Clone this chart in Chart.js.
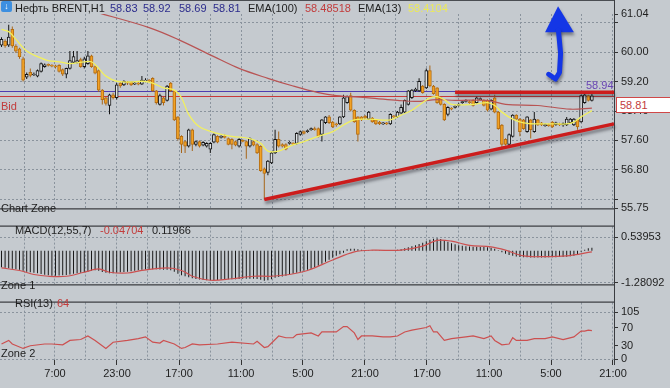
<!DOCTYPE html>
<html>
<head>
<meta charset="utf-8">
<script src="https://cdn.jsdelivr.net/npm/chart.js@4.4.1/dist/chart.umd.min.js"></script>
<style>
  html, body { margin: 0; padding: 0; background: #c5cacf; }
  #wrap { position: relative; width: 670px; height: 388px; overflow: hidden;
    font-family: "Liberation Sans", Arial, sans-serif; font-size: 11px; color: #1e1e1e; }
  canvas { position: absolute; left: 0; }
  .t { position: absolute; white-space: nowrap; line-height: 12px; }
  .blue { color: #2b2b8c; }
  .red { color: #c23c3c; }
  .yel { color: #ecea58; }
</style>
</head>
<body>
<div id="wrap">
  <canvas id="cMain" width="670" height="218" style="top:0;width:670px;height:218px"></canvas>
  <canvas id="cMacd" width="670" height="77" style="top:217px;width:670px;height:77px"></canvas>
  <canvas id="cRsi" width="670" height="95" style="top:293px;width:670px;height:95px"></canvas>

  <div style="position:absolute;left:0;top:0;width:614px;height:1px;background:#4a4d52"></div>
  <div style="position:absolute;left:614px;top:0;width:1px;height:365px;background:#3a3c40"></div>

  <div style="position:absolute;left:1px;top:1px;width:11px;height:11px;background:#3d8fe0;border-radius:2px;color:#fff;font-size:9px;line-height:11px;text-align:center;font-weight:bold">↓</div>
  <div class="t" style="left:15px;top:2px">Нефть BRENT,H1</div>
  <div class="t blue" style="left:110px;top:2px">58.83</div>
  <div class="t blue" style="left:143px;top:2px">58.92</div>
  <div class="t blue" style="left:179px;top:2px">58.69</div>
  <div class="t blue" style="left:213px;top:2px">58.81</div>
  <div class="t" style="left:248px;top:2px">EMA(100)</div>
  <div class="t red" style="left:305px;top:2px">58.48518</div>
  <div class="t" style="left:358px;top:2px">EMA(13)</div>
  <div class="t yel" style="left:408px;top:2px">58.4104</div>

  <div class="t red" style="left:1px;top:100px">Bid</div>
  <div class="t" style="left:586px;top:79px;color:#6a46b4">58.94</div>
  <div class="t red" style="left:616px;top:97px;width:52px;height:14px;line-height:14px;background:#fff;border:1px solid #d04848;padding-left:3px;box-sizing:content-box">58.81</div>
  <div class="t" style="left:1px;top:202px">Chart Zone</div>

  <div class="t" style="left:15px;top:224px">MACD(12,55,7)</div>
  <div class="t red" style="left:100px;top:224px">-0.04704</div>
  <div class="t" style="left:152px;top:224px">0.11966</div>
  <div class="t" style="left:1px;top:279px">Zone 1</div>

  <div class="t" style="left:15px;top:297px">RSI(13)</div>
  <div class="t red" style="left:57px;top:297px">64</div>
  <div class="t" style="left:1px;top:347px">Zone 2</div>
</div>

<script>
// hourly bars, index 0 = leftmost candle
const opens = [
  60.19, 60.30, 60.19, 60.62, 60.17, 60.09, 59.82, 59.32, 59.45, 59.38,
  59.35, 59.48, 59.61, 59.66, 59.64, 59.62, 59.64, 59.53, 59.40, 59.56,
  59.72, 59.72, 59.80, 59.61, 59.69, 59.90, 59.61, 59.50, 58.97, 58.76,
  58.55, 58.84, 58.76, 59.16, 59.11, 59.19, 59.19, 59.13, 59.16, 59.13,
  59.21, 59.24, 59.29, 58.95, 58.58, 58.76, 58.69, 59.16, 58.95, 58.24,
  57.71, 57.57, 57.44, 57.89, 57.49, 57.57, 57.47, 57.44, 57.36, 57.55,
  57.71, 57.68, 57.71, 57.65, 57.63, 57.57, 57.44, 57.60, 57.57, 57.44,
  57.57, 57.49, 57.44, 56.83, 56.73, 56.99, 57.26, 57.63, 57.49, 57.49,
  57.52, 57.52, 57.52, 57.76, 57.84, 57.84, 57.89, 57.92, 57.92, 57.76,
  58.08, 58.24, 58.10, 58.05, 58.05, 58.24, 58.63, 58.82, 58.42, 58.24,
  58.24, 58.26, 58.18, 58.21, 58.16, 58.10, 58.05, 58.08, 58.05, 58.26,
  58.24, 58.34, 58.37, 58.58, 58.76, 58.95, 58.95, 59.08, 59.03, 59.50,
  59.08, 59.03, 58.76, 58.58, 58.31, 58.47, 58.50, 58.55, 58.63, 58.66,
  58.66, 58.69, 58.63, 58.71, 58.69, 58.69, 58.45, 58.76, 58.37, 58.02,
  57.63, 57.49, 57.71, 58.29, 58.18, 58.16, 57.84, 58.16, 57.84, 58.16,
  58.08, 58.00, 58.03, 58.10, 58.03, 58.05, 58.02, 58.02, 58.08, 58.02,
  58.16, 58.10, 58.63, 58.82, 58.69
];
const highs = [
  60.41, 60.35, 60.75, 60.70, 60.22, 60.12, 59.88, 59.45, 59.56, 59.45,
  59.53, 59.72, 59.69, 59.69, 59.67, 59.66, 59.67, 59.56, 59.58, 60.03,
  60.03, 60.03, 59.85, 59.88, 60.03, 59.93, 59.64, 59.53, 59.00, 58.79,
  58.87, 58.90, 59.16, 59.19, 59.24, 59.22, 59.22, 59.19, 59.19, 59.35,
  59.29, 59.27, 59.32, 58.97, 58.87, 58.79, 59.11, 59.19, 58.97, 58.26,
  57.74, 57.60, 57.92, 57.92, 57.60, 57.60, 57.58, 57.55, 57.55, 57.79,
  57.74, 57.74, 57.76, 57.68, 57.66, 57.60, 57.66, 57.63, 57.60, 57.68,
  57.60, 57.52, 57.47, 56.86, 57.07, 57.29, 57.89, 57.84, 57.52, 57.52,
  57.58, 57.55, 57.82, 57.87, 57.87, 57.90, 57.95, 57.97, 57.95, 58.18,
  58.26, 58.29, 58.13, 58.08, 58.26, 58.84, 58.82, 58.90, 58.45, 58.26,
  58.26, 58.29, 58.40, 58.24, 58.18, 58.13, 58.10, 58.10, 58.34, 58.29,
  58.40, 58.58, 58.71, 58.97, 59.00, 59.03, 59.29, 59.11, 59.56, 59.64,
  59.11, 59.05, 58.79, 58.61, 58.53, 58.50, 58.56, 58.61, 58.69, 58.72,
  58.69, 58.72, 58.79, 58.77, 58.72, 58.72, 58.72, 58.84, 58.40, 58.05,
  57.66, 57.79, 58.31, 58.31, 58.21, 58.18, 58.26, 58.18, 58.37, 58.18,
  58.10, 58.06, 58.06, 58.13, 58.11, 58.08, 58.09, 58.24, 58.21, 58.21,
  58.18, 58.84, 58.87, 58.84, 58.90
];
const lows = [
  60.14, 60.12, 60.14, 60.12, 59.98, 59.82, 59.20, 59.27, 59.32, 59.35,
  59.32, 59.45, 59.58, 59.61, 59.59, 59.56, 59.45, 59.35, 59.29, 59.53,
  59.69, 59.69, 59.58, 59.56, 59.66, 59.58, 59.40, 58.92, 58.58, 58.55,
  58.31, 58.71, 58.71, 59.03, 59.08, 59.11, 59.08, 59.11, 59.10, 59.11,
  59.18, 59.18, 58.92, 58.58, 58.55, 58.55, 58.66, 58.92, 58.13, 57.60,
  57.26, 57.26, 57.41, 57.31, 57.44, 57.41, 57.44, 57.41, 57.26, 57.52,
  57.52, 57.65, 57.65, 57.47, 57.36, 57.44, 57.41, 57.55, 57.10, 57.41,
  57.44, 57.23, 56.75, 55.99, 56.65, 56.96, 57.23, 57.41, 57.41, 57.33,
  57.49, 57.47, 57.49, 57.73, 57.76, 57.81, 57.86, 57.86, 57.68, 57.57,
  58.05, 58.05, 57.94, 57.97, 58.02, 58.21, 58.60, 58.39, 58.08, 57.57,
  58.13, 58.18, 58.16, 58.08, 58.02, 58.02, 58.02, 58.02, 58.02, 58.21,
  58.21, 58.31, 58.34, 58.55, 58.73, 58.92, 58.92, 58.87, 59.00, 59.05,
  58.84, 58.60, 58.55, 58.13, 58.26, 58.42, 58.47, 58.52, 58.60, 58.63,
  58.60, 58.52, 58.60, 58.69, 58.52, 58.39, 58.42, 58.34, 57.89, 57.36,
  57.46, 57.46, 57.68, 58.16, 57.71, 57.89, 57.81, 57.65, 57.81, 57.99,
  57.99, 57.97, 57.97, 57.94, 58.00, 57.99, 57.97, 57.99, 58.05, 57.99,
  57.89, 58.08, 58.60, 58.66, 58.66
];
const closes = [
  60.35, 60.17, 60.41, 60.17, 60.03, 59.88, 59.24, 59.40, 59.37, 59.40,
  59.50, 59.69, 59.66, 59.64, 59.62, 59.60, 59.48, 59.40, 59.56, 59.77,
  59.88, 59.77, 59.61, 59.82, 59.90, 59.61, 59.43, 58.97, 58.71, 58.61,
  58.84, 58.76, 59.11, 59.08, 59.21, 59.16, 59.11, 59.16, 59.13, 59.24,
  59.24, 59.21, 58.95, 58.63, 58.82, 58.63, 59.08, 58.95, 58.16, 57.65,
  57.49, 57.44, 57.89, 57.49, 57.57, 57.44, 57.55, 57.52, 57.52, 57.76,
  57.55, 57.71, 57.68, 57.49, 57.49, 57.47, 57.63, 57.57, 57.44, 57.65,
  57.47, 57.26, 56.78, 56.70, 57.04, 57.26, 57.63, 57.44, 57.44, 57.36,
  57.55, 57.50, 57.79, 57.84, 57.79, 57.87, 57.92, 57.89, 57.71, 58.16,
  58.24, 58.08, 57.97, 58.02, 58.24, 58.76, 58.79, 58.42, 58.10, 57.76,
  58.16, 58.21, 58.37, 58.10, 58.05, 58.05, 58.08, 58.05, 58.31, 58.24,
  58.37, 58.50, 58.69, 58.95, 58.97, 59.00, 59.21, 58.90, 59.50, 59.08,
  58.87, 58.63, 58.58, 58.16, 58.50, 58.45, 58.53, 58.58, 58.66, 58.69,
  58.63, 58.55, 58.76, 58.74, 58.55, 58.42, 58.69, 58.37, 57.92, 57.49,
  57.49, 57.76, 58.29, 58.18, 57.84, 57.92, 58.24, 57.89, 58.18, 58.02,
  58.02, 58.03, 58.00, 57.97, 58.08, 58.02, 58.06, 58.18, 58.18, 58.18,
  57.97, 58.82, 58.84, 58.69, 58.81
];

// EMA lines read at selected bars
const ema13Bars = [0, 2, 4, 7, 10, 13, 16, 19, 23, 25, 27, 29, 32, 36, 39, 42, 45, 48, 50, 52, 55, 60, 64, 69, 72, 74, 77, 80, 84, 88, 92, 95, 98, 102, 105, 108, 111, 114, 117, 119, 121, 123, 125, 131, 135, 137, 139, 142, 145, 149, 154, 157, 159, 161, 164];
const ema13Vals = [60.62, 60.56, 60.35, 60.03, 59.88, 59.77, 59.74, 59.69, 59.74, 59.74, 59.56, 59.35, 59.21, 59.19, 59.21, 59.16, 59.03, 58.97, 58.76, 58.31, 57.97, 57.79, 57.71, 57.65, 57.52, 57.31, 57.31, 57.44, 57.57, 57.71, 57.84, 58.02, 58.16, 58.18, 58.16, 58.16, 58.29, 58.42, 58.63, 58.76, 58.79, 58.71, 58.58, 58.58, 58.63, 58.55, 58.37, 58.18, 58.08, 58.05, 58.05, 58.05, 58.10, 58.24, 58.41];
const ema100Bars = [27, 41, 49, 59, 66, 74, 81, 88, 93, 102, 110, 115, 121, 126, 135, 140, 149, 158, 164];
const ema100Vals = [61.07, 60.67, 60.35, 59.88, 59.56, 59.29, 59.08, 58.90, 58.82, 58.76, 58.69, 58.66, 58.71, 58.69, 58.69, 58.58, 58.55, 58.45, 58.48];

// MACD histogram, one value per bar
const macdHist = [
  -0.66, -0.68, -0.70, -0.72, -0.74, -0.76, -0.80, -0.84, -0.86, -0.88,
  -0.90, -0.93, -0.96, -0.98, -1.00, -1.00, -0.99, -0.98, -0.97, -0.95,
  -0.92, -0.90, -0.88, -0.86, -0.84, -0.80, -0.78, -0.80, -0.85, -0.88,
  -0.90, -0.90, -0.88, -0.86, -0.85, -0.84, -0.82, -0.80, -0.78, -0.76,
  -0.75, -0.74, -0.74, -0.74, -0.75, -0.76, -0.76, -0.78, -0.84, -0.92,
  -0.98, -1.02, -1.06, -1.10, -1.13, -1.15, -1.17, -1.18, -1.18, -1.18,
  -1.17, -1.16, -1.15, -1.14, -1.14, -1.14, -1.13, -1.12, -1.12, -1.12,
  -1.12, -1.13, -1.16, -1.20, -1.18, -1.14, -1.08, -1.05, -1.03, -1.00,
  -0.96, -0.92, -0.88, -0.84, -0.80, -0.76, -0.72, -0.66, -0.60, -0.52,
  -0.44, -0.36, -0.28, -0.20, -0.14, -0.08, 0.06, 0.08, 0.08, 0.06,
  0.04, 0.02, 0.02, 0.01, 0.01, 0.01, 0.01, 0.01, 0.02, 0.02,
  0.04, 0.06, 0.10, 0.14, 0.18, 0.22, 0.27, 0.32, 0.38, 0.44,
  0.48, 0.50, 0.47, 0.42, 0.36, 0.30, 0.26, 0.22, 0.20, 0.18,
  0.17, 0.16, 0.16, 0.15, 0.15, 0.14, 0.12, 0.08, 0.02, -0.06,
  -0.12, -0.17, -0.20, -0.23, -0.25, -0.26, -0.26, -0.27, -0.27, -0.27,
  -0.27, -0.27, -0.26, -0.26, -0.26, -0.25, -0.25, -0.24, -0.22, -0.20,
  -0.14, -0.04, 0.04, 0.10, 0.12
];
const macdSigBars = [0, 5, 9, 13, 18, 23, 27, 30, 35, 39, 46, 50, 53, 58, 64, 70, 75, 80, 85, 92, 98, 103, 111, 117, 121, 125, 130, 136, 140, 145, 150, 157, 164];
const macdSigVals = [-0.69, -0.79, -0.95, -1.02, -1.02, -0.86, -0.73, -0.86, -0.89, -0.79, -0.69, -0.79, -1.02, -1.18, -1.12, -1.02, -1.02, -0.95, -0.79, -0.37, -0.05, 0.02, 0.02, 0.18, 0.41, 0.38, 0.21, 0.15, 0.02, -0.21, -0.24, -0.21, -0.05];

const rsiBars = [0, 2, 3, 6, 8, 12, 14, 17, 19, 22, 24, 26, 29, 31, 35, 38, 40, 42, 44, 45, 48, 50, 51, 53, 55, 60, 64, 70, 71, 73, 74, 77, 79, 81, 82, 86, 88, 89, 93, 95, 96, 98, 99, 100, 103, 106, 108, 110, 112, 114, 118, 119, 120, 121, 123, 125, 129, 131, 134, 136, 137, 139, 141, 142, 143, 146, 148, 151, 153, 156, 159, 161, 162, 163, 164];
const rsiVals = [34, 42, 34, 24, 30, 34, 34, 32, 42, 44, 52, 42, 24, 38, 42, 46, 50, 38, 36, 42, 34, 24, 26, 34, 32, 34, 38, 34, 40, 26, 28, 52, 48, 48, 55, 59, 52, 61, 61, 73, 73, 59, 44, 52, 52, 50, 50, 52, 61, 65, 71, 75, 61, 61, 42, 46, 50, 52, 46, 52, 42, 32, 34, 48, 42, 42, 46, 46, 50, 44, 50, 63, 63, 65, 64];

// axis ticks
const timeTickPos = [6.25, 14.86, 23.47, 32.08, 40.69, 49.31, 57.92, 66.53, 75.14, 83.75, 92.36, 100.97, 109.58, 118.19, 126.81, 135.42, 144.03, 152.64, 161.25, 169.86];
const timeLabels = ['7:00', '23:00', '17:00', '11:00', '5:00', '21:00', '17:00', '11:00', '5:00', '21:00'];
const priceTicks = [55.75, 56.00, 56.80, 57.60, 58.40, 59.20, 60.00, 60.80, 61.04];
const priceLabels = ['55.75', '', '56.80', '57.60', '58.40', '59.20', '60.00', '', '61.04'];
const macdTicks = [-1.28092, 0.53953];
const macdLabels = ['-1.28092', '0.53953'];
const rsiTicks = [0, 30, 70, 105];
const rsiLabels = ['0', '30', '70', '105'];

// drawn objects (bar index, price)
const bidPrice = 58.81;
const askLinePrice = 58.94;
const resistance = { from: 126, to: 170.14, price: 58.91 };
const trend = { x0: 73, y0: 55.99, x1: 170.14, y1: 58.05 };
const arrowHead = [[154.6, 61.25], [151.0, 60.54], [159.0, 60.54]];
const arrowShaft = [[154.7, 60.60], [155.3, 59.97], [155.0, 59.45], [153.9, 59.27], [152.0, 59.40]];

const X_MIN = -0.417, X_MAX = 170.14;
const GRID = '#8a939d';
const TXT = '#1e1e1e';
const FONT = { family: '"Liberation Sans", Arial, sans-serif', size: 11 };

Chart.defaults.animation = false;
Chart.defaults.events = [];
Chart.defaults.font.family = FONT.family;
Chart.defaults.font.size = 11;
Chart.defaults.plugins.legend.display = false;
Chart.defaults.plugins.tooltip.enabled = false;

function xAxis(showLabels) {
  return {
    type: 'linear', min: X_MIN, max: X_MAX, offset: false,
    afterBuildTicks: (s) => { s.ticks = timeTickPos.map((v) => ({ value: v })); },
    ticks: {
      display: showLabels, autoSkip: false, maxRotation: 0, padding: 2, color: TXT, font: FONT,
      callback: (v, i) => (i % 2 === 1 ? timeLabels[(i - 1) / 2] : ''),
    },
    grid: {
      offset: false, color: GRID, drawTicks: showLabels, tickLength: 5,
      tickColor: (ctx) => (ctx.index % 2 === 1 ? '#333' : 'rgba(0,0,0,0)'),
    },
    border: { display: false, dash: [2, 2] },
    afterFit: (s) => { s.height = showLabels ? 28 : 0; },
  };
}

function yAxis(min, max, ticks, labels, gridOn) {
  return {
    position: 'right', min, max,
    afterBuildTicks: (s) => { s.ticks = ticks.map((v) => ({ value: v })); },
    ticks: { autoSkip: false, padding: 3, color: TXT, font: FONT, callback: (v, i) => labels[i] },
    grid: { color: (ctx) => (gridOn(ctx.index) ? GRID : 'rgba(0,0,0,0)'), tickLength: 4, tickColor: '#333' },
    border: { display: true, color: '#3a3c40', dash: [2, 2] },
    afterFit: (s) => { s.width = 56; },
  };
}

// dark frame lines between panels
function framePlugin(top, bottom) {
  return {
    id: 'frame',
    afterDraw(chart) {
      const { ctx, chartArea: a } = chart;
      ctx.save();
      ctx.strokeStyle = '#1c1d20';
      ctx.lineWidth = 1;
      ctx.beginPath();
      if (top) { ctx.moveTo(0, a.top - 0.5); ctx.lineTo(a.right, a.top - 0.5); }
      if (bottom) { ctx.moveTo(0, a.bottom + 0.5); ctx.lineTo(a.right, a.bottom + 0.5); }
      ctx.stroke();
      ctx.restore();
    },
  };
}

const drawings = {
  id: 'drawings',
  beforeDatasetsDraw(chart) {
    const { ctx, chartArea: a, scales: { y } } = chart;
    ctx.save();
    ctx.lineWidth = 1;
    ctx.strokeStyle = '#4e3cb0';
    let py = Math.round(y.getPixelForValue(askLinePrice)) + 0.5;
    ctx.beginPath(); ctx.moveTo(0, py); ctx.lineTo(a.right, py); ctx.stroke();
    ctx.strokeStyle = '#c83a3a';
    py = Math.round(y.getPixelForValue(bidPrice)) + 0.5;
    ctx.beginPath(); ctx.moveTo(0, py); ctx.lineTo(a.right, py); ctx.stroke();
    ctx.restore();
  },
  afterDatasetsDraw(chart) {
    const { ctx, scales: { x, y } } = chart;
    const px = (p) => [x.getPixelForValue(p[0]), y.getPixelForValue(p[1])];
    ctx.save();
    ctx.shadowColor = 'rgba(30,30,40,0.45)';
    ctx.shadowBlur = 3;
    ctx.shadowOffsetX = 1;
    ctx.shadowOffsetY = 3;
    ctx.strokeStyle = '#cc1c1c';
    ctx.lineWidth = 3.5;
    // resistance
    const ry = y.getPixelForValue(resistance.price);
    ctx.beginPath();
    ctx.moveTo(x.getPixelForValue(resistance.from), ry);
    ctx.lineTo(x.getPixelForValue(resistance.to), ry);
    ctx.stroke();
    // trend line
    ctx.beginPath();
    ctx.moveTo(x.getPixelForValue(trend.x0), y.getPixelForValue(trend.y0));
    ctx.lineTo(x.getPixelForValue(trend.x1), y.getPixelForValue(trend.y1));
    ctx.stroke();
    // arrow
    ctx.fillStyle = '#1436e6';
    ctx.strokeStyle = '#1436e6';
    ctx.beginPath();
    arrowHead.forEach((p, i) => { const [a, b] = px(p); i ? ctx.lineTo(a, b) : ctx.moveTo(a, b); });
    ctx.closePath();
    ctx.fill();
    ctx.lineWidth = 5;
    ctx.lineCap = 'round';
    ctx.lineJoin = 'round';
    ctx.beginPath();
    arrowShaft.forEach((p, i) => { const [a, b] = px(p); i ? ctx.lineTo(a, b) : ctx.moveTo(a, b); });
    ctx.stroke();
    ctx.restore();
  },
};

// candles
const wickUp = [], wickDn = [], bodyUp = [], bodyDn = [];
opens.forEach((o, i) => {
  const c = closes[i];
  const up = c >= o;
  (up ? wickUp : wickDn).push({ x: i, y: [lows[i], highs[i]] });
  (up ? bodyUp : bodyDn).push({ x: i, y: [Math.min(o, c), Math.max(o, c)] });
});
const pts = (bars, vals) => bars.map((b, k) => ({ x: b, y: vals[k] }));

new Chart(document.getElementById('cMain'), {
  type: 'bar',
  data: {
    datasets: [
      { type: 'line', data: pts(ema13Bars, ema13Vals), borderColor: '#f2f05e', borderWidth: 1.3, pointRadius: 0, tension: 0.35, order: 0 },
      { type: 'line', data: pts(ema100Bars, ema100Vals), borderColor: '#b85454', borderWidth: 1.2, pointRadius: 0, tension: 0.35, order: 0 },
      { data: bodyUp, backgroundColor: '#dde1e4', borderColor: '#151515', borderWidth: 1, borderSkipped: false, barThickness: 3, minBarLength: 1, grouped: false, order: 1 },
      { data: bodyDn, backgroundColor: '#f2a225', borderColor: '#b46d12', borderWidth: 1, borderSkipped: false, barThickness: 3, minBarLength: 1, grouped: false, order: 1 },
      { data: wickUp, backgroundColor: '#151515', barThickness: 1, inflateAmount: 0, grouped: false, order: 2 },
      { data: wickDn, backgroundColor: '#a8661a', barThickness: 1, inflateAmount: 0, grouped: false, order: 2 },
    ],
  },
  options: {
    responsive: false,
    layout: { padding: { top: 14, bottom: 2, left: 0, right: 0 } },
    scales: {
      x: xAxis(false),
      y: yAxis(55.75, 61.04, priceTicks, priceLabels, (i) => i > 0 && i < priceTicks.length - 1),
    },
  },
  plugins: [drawings, framePlugin(false, true)],
});

new Chart(document.getElementById('cMacd'), {
  type: 'bar',
  data: {
    datasets: [
      { type: 'line', data: pts(macdSigBars, macdSigVals), borderColor: '#cc5050', borderWidth: 1.2, pointRadius: 0, tension: 0.35, order: 0 },
      { data: macdHist.map((v, i) => ({ x: i, y: v })), backgroundColor: '#1a1a1a', barThickness: 1, inflateAmount: 0, grouped: false, order: 1 },
    ],
  },
  options: {
    responsive: false,
    layout: { padding: { top: 4, bottom: 2, left: 0, right: 0 } },
    scales: {
      x: xAxis(false),
      y: yAxis(-1.346, 0.961, macdTicks, macdLabels, () => true),
    },
  },
  plugins: [framePlugin(true, true)],
});

new Chart(document.getElementById('cRsi'), {
  type: 'line',
  data: {
    datasets: [
      { data: pts(rsiBars, rsiVals), borderColor: '#cc5050', borderWidth: 1.2, pointRadius: 0, tension: 0 },
    ],
  },
  options: {
    responsive: false,
    layout: { padding: { top: 3, bottom: 0, left: 0, right: 0 } },
    scales: {
      x: xAxis(true),
      y: yAxis(-2, 127, rsiTicks, rsiLabels, (i) => i === 0 || i === 3),
    },
  },
  plugins: [framePlugin(true, false)],
});
</script>
</body>
</html>
